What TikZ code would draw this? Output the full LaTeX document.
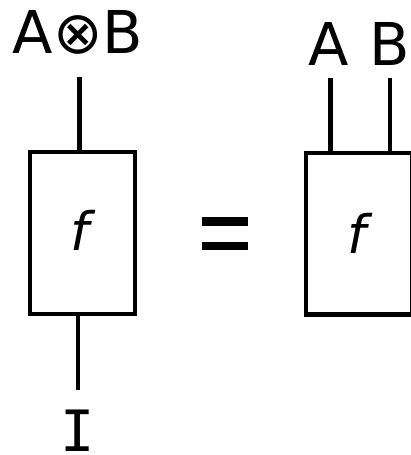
\documentclass[tikz,border=0pt]{standalone}
\usepackage{fontspec}
\setmainfont{DejaVu Sans}
\newfontfamily\monofnt{DejaVu Sans Mono}
\begin{document}
\begin{tikzpicture}[x=1pt,y=-1pt,
  wire/.style={line width=4.2pt},
  morph/.style={draw,line width=4.2pt,inner sep=0pt,outer sep=0pt},
  lbl/.style={font=\fontsize{59}{59}\selectfont,inner sep=0pt},
  fname/.style={font=\fontsize{53}{53}\selectfont\itshape,inner sep=0pt,anchor=base}
]
\useasboundingbox (0,0) rectangle (411,455);
\clip (0,0) rectangle (411,455);
% left box
\node[morph,minimum width=104.7pt,minimum height=161.7pt] (L) at (82.3,232.8) {};
\node[fname] (fL) at (79.5,250) {f};
% right box
\node[morph,minimum width=106pt,minimum height=161.5pt] (R) at (359,233.75) {};
\node[fname] (fR) at (357,253) {f};
% labels
\node[lbl,anchor=base west] (AB) at (12.5,53) {A⊗B};
\node[lbl,anchor=base] (A) at (328.5,65) {A};
\node[lbl,anchor=base west] (B) at (369,65) {B};
\node[lbl,font=\monofnt\fontsize{57}{57}\selectfont,anchor=base] (I) at (77.5,451.5) {I};
% wires
\coordinate (lt) at (79.5,77);
\coordinate (lb) at (77.7,390);
\coordinate (ra) at (330.5,78);
\coordinate (rb) at (389.7,78);
\draw[wire] (lt) -- (lt |- L.north);
\draw[wire] (lb) -- (lb |- L.south);
\draw[wire] (ra) -- (ra |- R.north);
\draw[wire] (rb) -- (rb |- R.north);
% equals sign
\fill (202,217) rectangle (248,226);
\fill (202,242) rectangle (248,250);
\end{tikzpicture}
\end{document}
